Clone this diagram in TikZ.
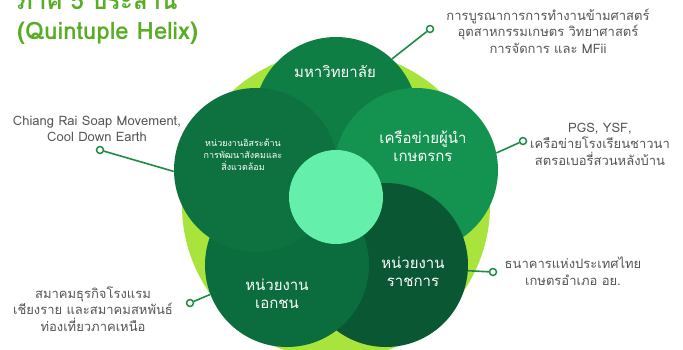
\documentclass[tikz,border=0pt]{standalone}
\usepackage{fontspec}
\setmainfont[Script=Thai]{Loma}
\definecolor{limec}{HTML}{A8E43C}
\definecolor{ctop}{HTML}{0E7E44}
\definecolor{cright}{HTML}{13934F}
\definecolor{cbr}{HTML}{0A5733}
\definecolor{cbl}{HTML}{0B6D3E}
\definecolor{cleft}{HTML}{0D7240}
\definecolor{ccenter}{HTML}{64EFAA}
\definecolor{titlec}{HTML}{58AD24}
\definecolor{txtc}{HTML}{555555}
\definecolor{pinc}{HTML}{1E8C45}
\tikzset{
  blob/.style={circle, inner sep=0pt, minimum size=164pt},
  lbl/.style={text=white, align=center, font=\fontsize{15}{18}\selectfont},
  side/.style={text=txtc, align=center, font=\fontsize{13}{16.5}\selectfont},
  ttl/.style={anchor=base west, text=titlec, font=\fontsize{24}{28}\selectfont\bfseries, inner sep=0pt},
  pin/.style={circle, draw=pinc, fill=white, line width=1.5pt, inner sep=0pt, minimum size=7pt},
  wire/.style={draw=pinc, line width=1.6pt}
}
\begin{document}
\begin{tikzpicture}[x=1pt,y=-1pt]
\useasboundingbox (0,0) rectangle (683,349);
\clip (0,0) rectangle (683,349);
\fill[white] (0,0) rectangle (683,349);
% title
\node[ttl] (t1) at (17,9) {ภาคี 5 ประสาน};
\node[ttl] (t2) at (17,39) {(Quintuple Helix)};
% background
\node[circle, inner sep=0pt, minimum size=308pt, fill=limec] (bg) at (336,205) {};
% circles
\node[blob, fill=ctop] (tc) at (336,119) {};
\node[blob, fill=cright] (rc) at (416,170) {};
\node[blob, fill=cbr] (brc) at (386,265) {};
\node[blob, fill=cbl] (blc) at (287,265) {};
\node[blob, fill=cleft] (lc) at (256,170) {};
\node[circle, inner sep=0pt, minimum size=94pt, fill=ccenter] (cc) at (336,197) {};
% circle labels
\node[lbl] (ltop) at (335,72) {มหาวิทยาลัย};
\node[lbl] (lright) at (423,146) {เครือข่ายผู้นำ\\เกษตรกร};
\node[lbl] (lbr) at (413,272) {หน่วยงาน\\ราชการ};
\node[lbl] (lbl) at (277,294) {หน่วยงาน\\เอกชน};
\node[text=white, align=center, font=\fontsize{9}{12}\selectfont] (lleft) at (243,155) {หน่วยงานอิสระด้าน\\การพัฒนาสังคมและ\\สิ่งแวดล้อม};
% pins
\node[pin] (p1) at (430,29) {};
\node[pin] (p2) at (523,141) {};
\node[pin] (p3) at (493,272) {};
\node[pin] (p4) at (190,303) {};
\node[pin] (p5) at (100,150) {};
\draw[wire] (p1) -- (tc.47);
\draw[wire] (p2) -- (rc.12);
\draw[wire] (p3) -- (brc.-4);
\draw[wire] (p4) -- (blc.201);
\draw[wire] (p5) -- (lc.181);
% side texts
\node[side] (s1) at (548,31) {การบูรณาการการทำงานข้ามศาสตร์\\อุตสาหกรรมเกษตร วิทยาศาสตร์\\การจัดการ และ MFii};
\node[side] (s2) at (600,144) {PGS, YSF,\\เครือข่ายโรงเรียนชาวนา\\สตรอเบอรี่สวนหลังบ้าน};
\node[side] (s3) at (573,271) {ธนาคารแห่งประเทศไทย\\เกษตรอำเภอ อย.};
\node[side] (s4) at (93,309) {สมาคมธุรกิจโรงแรม\\เชียงราย และสมาคมสหพันธ์\\ท่องเที่ยวภาคเหนือ};
\node[side] (s5) at (97,129) {Chiang Rai Soap Movement,\\Cool Down Earth};
\end{tikzpicture}
\end{document}
